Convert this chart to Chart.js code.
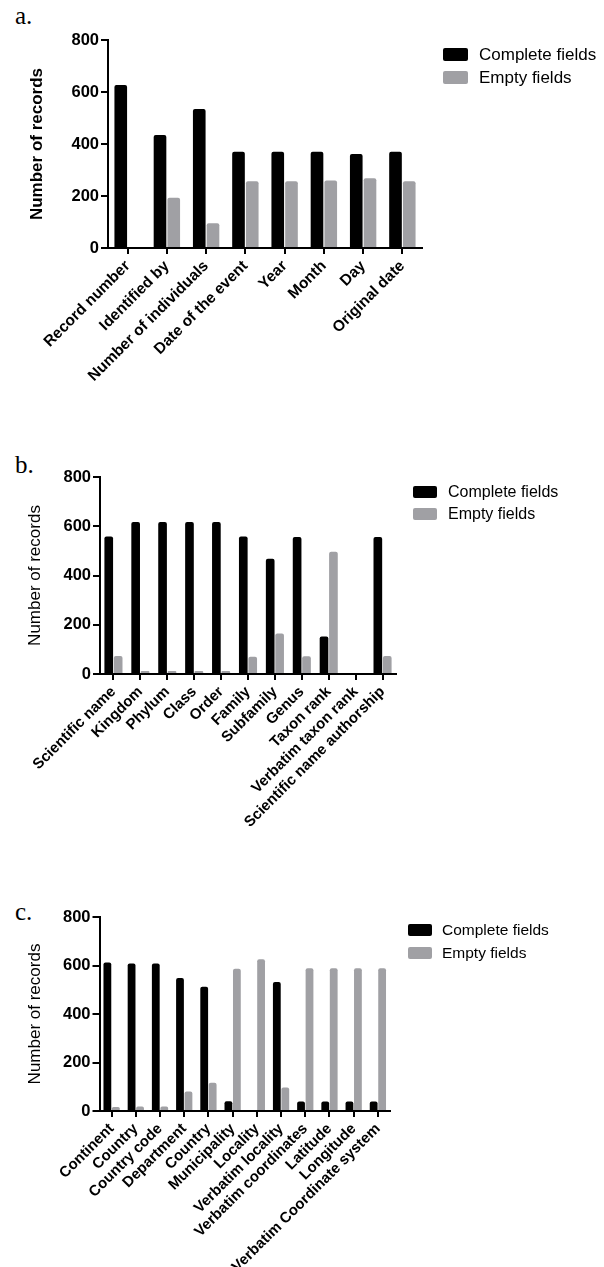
<!DOCTYPE html>
<html>
<head>
<meta charset="utf-8">
<script src="https://cdn.jsdelivr.net/npm/chart.js@4.4.1/dist/chart.umd.min.js"></script>
<style>
  html, body { margin: 0; padding: 0; background: #fff; }
  body { width: 604px; height: 1267px; position: relative; overflow: hidden; font-family: 'Liberation Sans', Arial, sans-serif; }
  canvas { position: absolute; left: 0; }
  .panel-label { position: absolute; font-family: 'Liberation Serif', serif; font-size: 25px; line-height: 1; color: #000; }
  .swatch { position: absolute; border-radius: 2px; }
  .key-text { position: absolute; line-height: 1; color: #000; white-space: nowrap; }
</style>
</head>
<body>
<div class="panel-label" style="left:15px; top:3px">a.</div>
<div class="panel-label" style="left:15px; top:452px">b.</div>
<div class="panel-label" style="left:15px; top:899px">c.</div>

<canvas id="chartA" width="604" height="440" style="top:0px"></canvas>
<canvas id="chartB" width="604" height="420" style="top:440px"></canvas>
<canvas id="chartC" width="604" height="407" style="top:860px"></canvas>

<script>
// Series names and colours
const seriesNames = ['Complete fields', 'Empty fields'];
const seriesColors = ['#000000', '#a0a0a4'];

// y axis ticks shared by the three panels
const yTickValues = [0, 200, 400, 600, 800];

// Panel a
const categoriesA = ['Record number', 'Identified by', 'Number of individuals', 'Date of the event',
  'Year', 'Month', 'Day', 'Original date'];
const completeA = [627, 435, 535, 370, 370, 370, 362, 370];
const emptyA = [0, 193, 95, 257, 257, 260, 268, 257];

// Panel b
const categoriesB = ['Scientific name', 'Kingdom', 'Phylum', 'Class', 'Order', 'Family', 'Subfamily',
  'Genus', 'Taxon rank', 'Verbatim taxon rank', 'Scientific name authorship'];
const completeB = [558, 617, 617, 617, 617, 558, 468, 556, 152, 0, 556];
const emptyB = [73, 12, 12, 12, 12, 70, 164, 72, 496, 0, 73];

// Panel c
const categoriesC = ['Continent', 'Country', 'Country code', 'Department', 'Country', 'Municipality',
  'Locality', 'Verbatim locality', 'Verbatim coordinates', 'Latitude', 'Longitude', 'Verbatim Coordinate system'];
const completeC = [612, 608, 608, 548, 512, 40, 0, 532, 39, 39, 39, 39];
const emptyC = [17, 19, 19, 80, 116, 587, 626, 97, 589, 589, 589, 589];

const sansFamily = "'Liberation Sans', Arial, sans-serif";

function buildChart(id, labels, complete, empty, look) {
  const canvas = document.getElementById(id);
  return new Chart(canvas, {
    type: 'bar',
    data: {
      labels: labels,
      datasets: [
        { label: seriesNames[0], data: complete, backgroundColor: seriesColors[0] },
        { label: seriesNames[1], data: empty, backgroundColor: seriesColors[1] }
      ]
    },
    options: {
      responsive: false,
      animation: false,
      devicePixelRatio: 1,
      layout: { padding: look.padding },
      plugins: { legend: { display: false }, tooltip: { enabled: false } },
      datasets: {
        bar: { categoryPercentage: 0.7, barPercentage: 0.92, borderRadius: 2 }
      },
      scales: {
        x: {
          afterFit: scale => { scale.height = look.xHeight; },
          border: { display: true, color: '#000', width: 2 },
          grid: { display: true, offset: false, drawOnChartArea: false, drawTicks: true,
                  tickLength: 6, color: '#000', lineWidth: 2 },
          ticks: {
            autoSkip: false, maxRotation: 45, minRotation: 45, padding: 3, color: '#000',
            font: { family: sansFamily, size: look.xFont, weight: 'bold' }
          }
        },
        y: {
          min: yTickValues[0],
          max: yTickValues[yTickValues.length - 1],
          afterFit: scale => { scale.width = look.yWidth; },
          afterBuildTicks: scale => { scale.ticks = yTickValues.map(v => ({ value: v })); },
          border: { display: true, color: '#000', width: 2 },
          grid: { display: true, drawOnChartArea: false, drawTicks: true,
                  tickLength: 7, color: '#000', lineWidth: 2 },
          ticks: {
            padding: 2, color: '#000',
            font: { family: sansFamily, size: 16.5, weight: 'bold' }
          },
          title: {
            display: true, text: 'Number of records', color: '#000', padding: 0,
            font: { family: sansFamily, size: 17, weight: look.titleWeight }
          }
        }
      }
    }
  });
}

// legend built from the chart's own datasets
function addLegend(chart, key) {
  chart.data.datasets.forEach((ds, i) => {
    const top = key.boxTops[i];
    const box = document.createElement('div');
    box.className = 'swatch';
    box.style.left = key.boxLeft + 'px';
    box.style.top = top + 'px';
    box.style.width = key.boxW + 'px';
    box.style.height = key.boxH + 'px';
    box.style.background = ds.backgroundColor;
    document.body.appendChild(box);

    const txt = document.createElement('div');
    txt.className = 'key-text';
    txt.textContent = ds.label;
    txt.style.fontSize = key.font + 'px';
    const baseline = top + key.boxH / 2 + 0.716 * key.font / 2;
    txt.style.top = (baseline - 0.8465 * key.font) + 'px';
    txt.style.left = key.textLeft + 'px';
    document.body.appendChild(txt);
  });
}

const chartA = buildChart('chartA', categoriesA, completeA, emptyA, {
  padding: { top: 40, right: 182, left: 27, bottom: 0 },
  yWidth: 81, xHeight: 192, xFont: 15.5, titleWeight: 'bold'
});
const chartB = buildChart('chartB', categoriesB, completeB, emptyB, {
  padding: { top: 37, right: 208, left: 25, bottom: 0 },
  yWidth: 75, xHeight: 186, xFont: 15, titleWeight: 'normal'
});
const chartC = buildChart('chartC', categoriesC, completeC, emptyC, {
  padding: { top: 57, right: 214, left: 25, bottom: 0 },
  yWidth: 74.5, xHeight: 156, xFont: 15, titleWeight: 'normal'
});

addLegend(chartA, { boxLeft: 443, boxTops: [48, 71], boxW: 25, boxH: 13, textLeft: 479, font: 17 });
addLegend(chartB, { boxLeft: 413, boxTops: [486, 508], boxW: 24, boxH: 12, textLeft: 448, font: 16 });
addLegend(chartC, { boxLeft: 408, boxTops: [924, 947], boxW: 24, boxH: 12, textLeft: 442, font: 15.5 });
</script>
</body>
</html>
